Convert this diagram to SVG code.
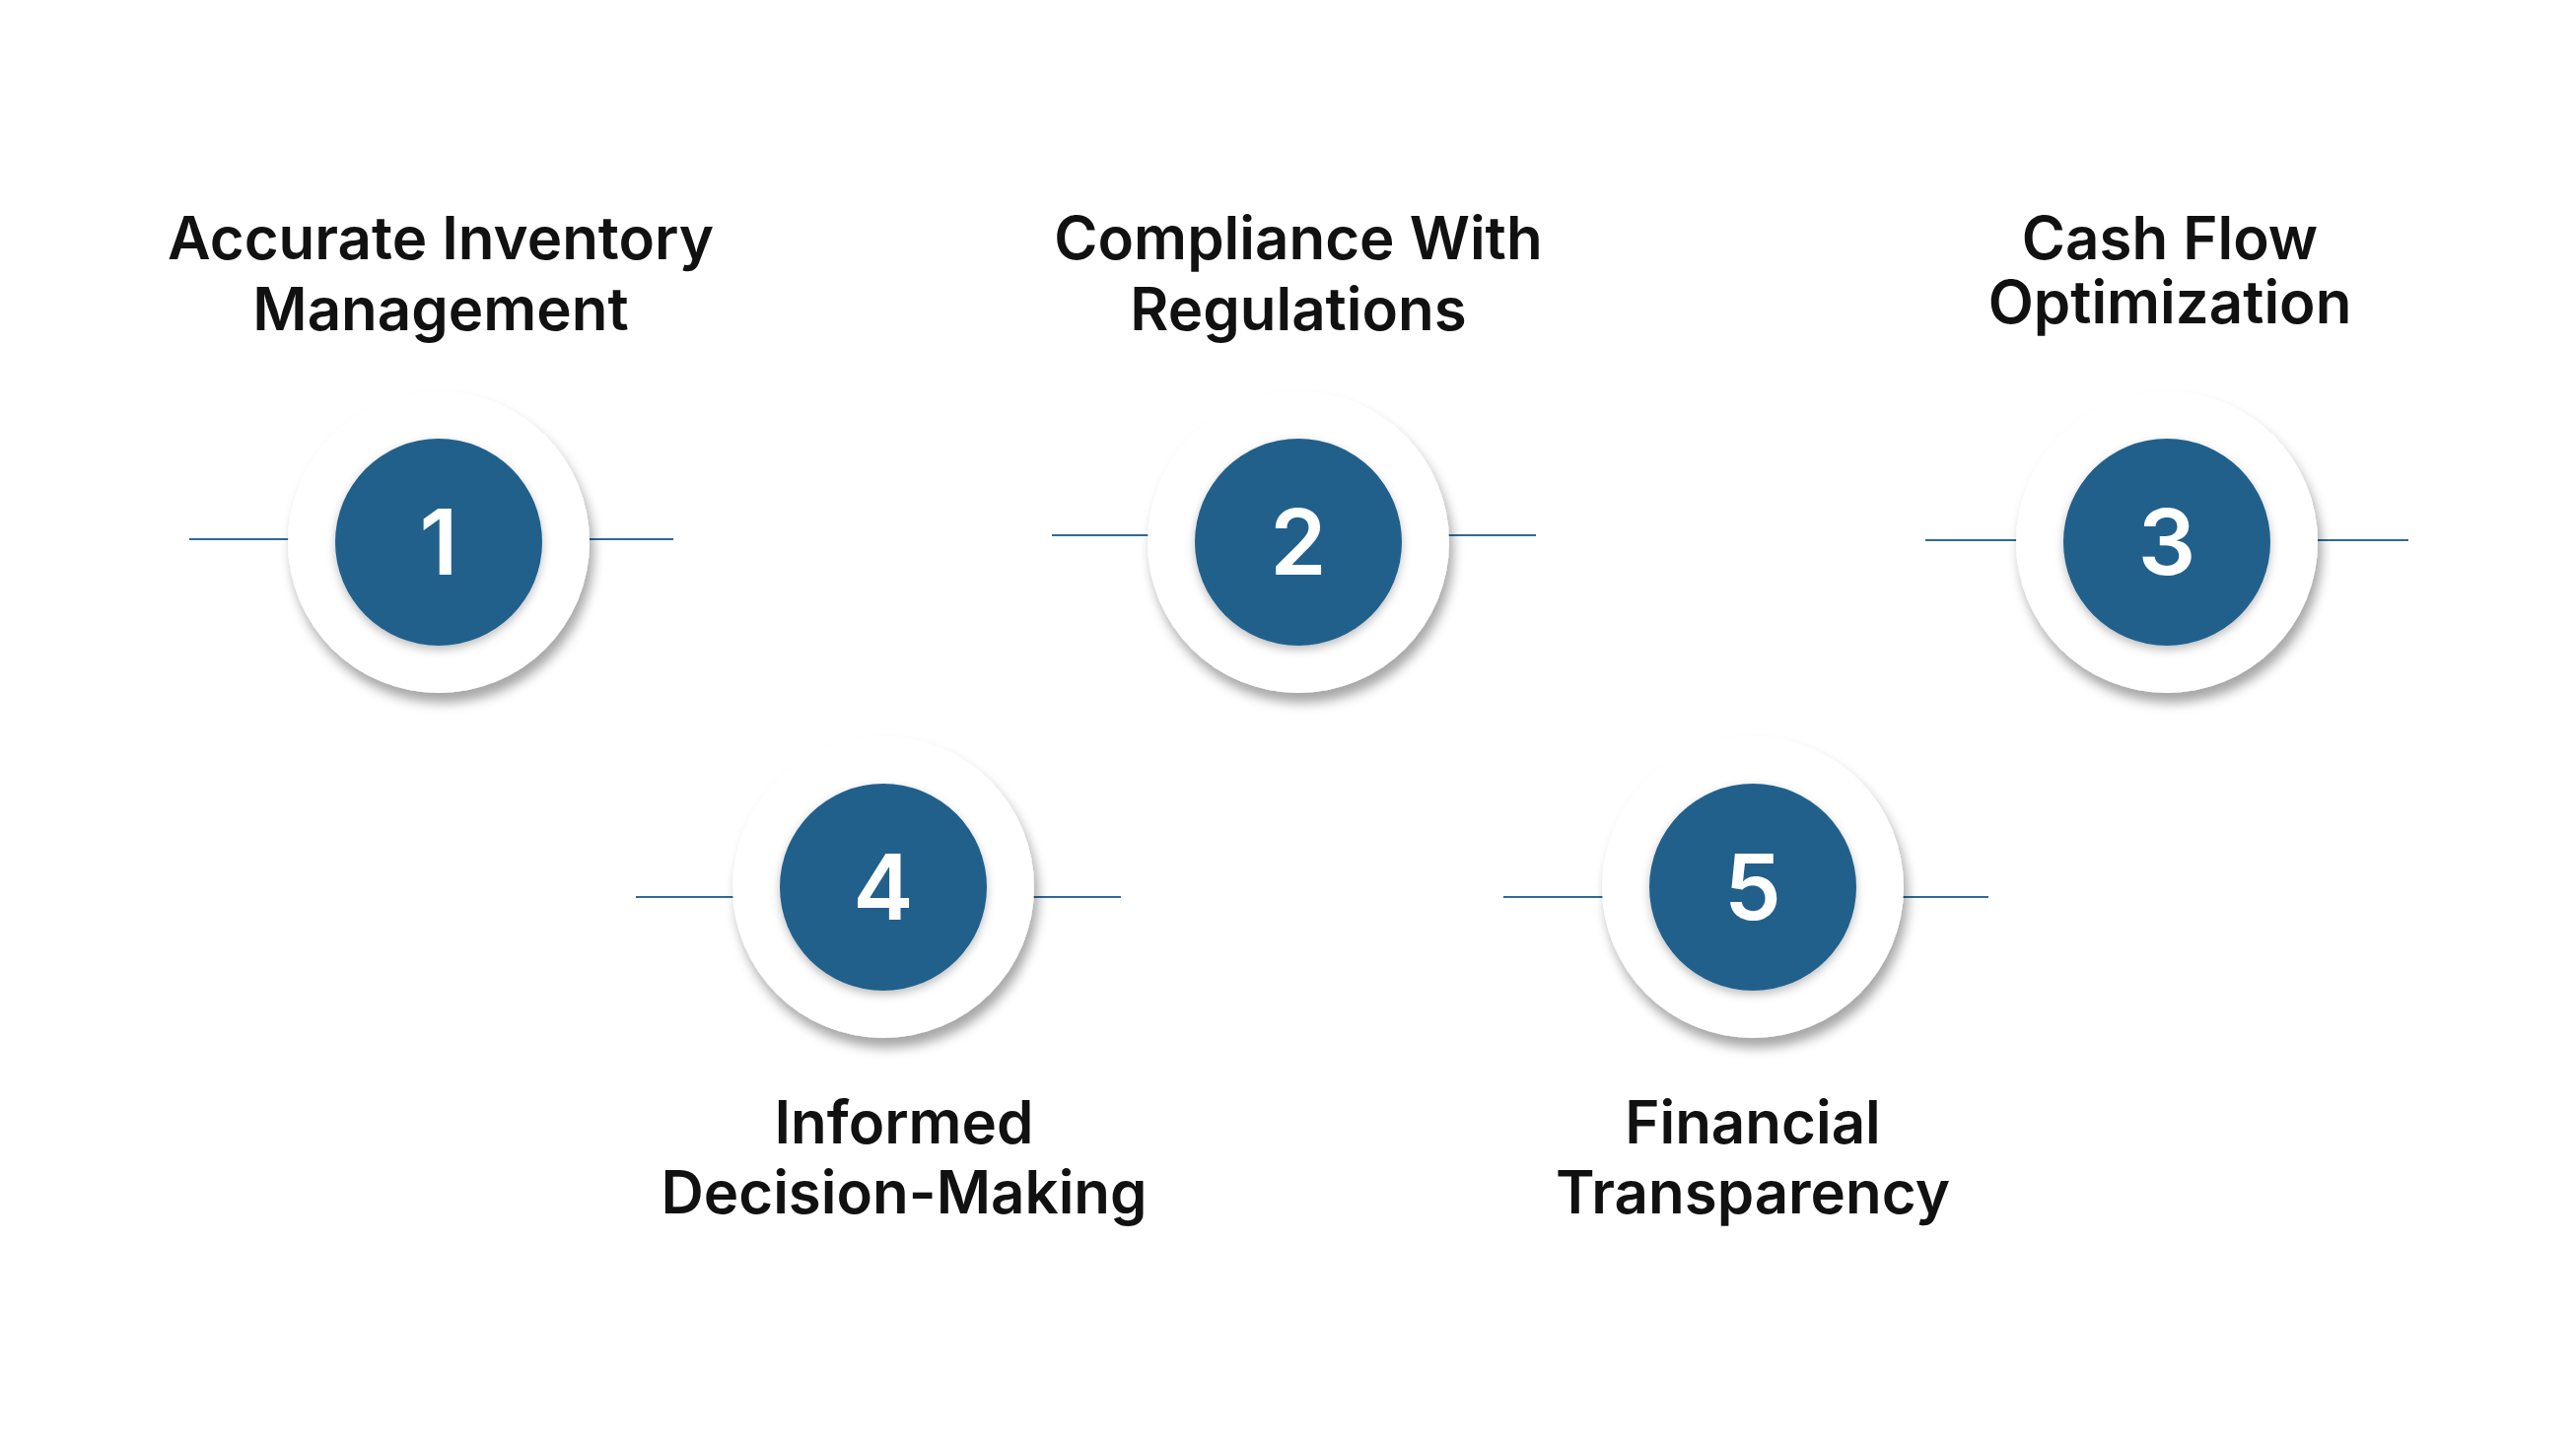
<svg xmlns="http://www.w3.org/2000/svg" width="2613" height="1470" viewBox="0 0 2613 1470">
<style>
.t{font-family:Inter,"Liberation Sans",sans-serif;font-weight:600;font-size:60px;fill:#111;text-anchor:middle}
.n{font-family:Inter,"Liberation Sans",sans-serif;font-weight:600;font-size:92px;fill:#fff;text-anchor:middle}
.o{fill:#fff;filter:url(#sh)}
.i{fill:#22618c;filter:url(#sh2)}
.l{stroke:#2f6a99;stroke-width:2}
</style>
<defs>
<filter id="sh" x="-30%" y="-30%" width="160%" height="170%"><feDropShadow dx="4" dy="10" stdDeviation="6" flood-color="#000" flood-opacity="0.35"/></filter>
<filter id="sh2" x="-30%" y="-30%" width="160%" height="170%"><feDropShadow dx="0" dy="4" stdDeviation="5" flood-color="#000" flood-opacity="0.25"/></filter>
</defs>
<rect width="2613" height="1470" fill="#fff"/>
<g id="connectors">
<line class="l" x1="192" y1="547" x2="683" y2="547"/>
<line class="l" x1="1067" y1="543" x2="1558" y2="543"/>
<line class="l" x1="1953" y1="548" x2="2443" y2="548"/>
<line class="l" x1="645" y1="910" x2="1137" y2="910"/>
<line class="l" x1="1525" y1="910" x2="2017" y2="910"/>
</g>
<g id="node1"><circle class="o" cx="445" cy="550" r="153"/><circle class="i" cx="445" cy="550" r="105"/><text class="n" x="445" y="583">1</text>
<text class="t" x="447" y="263">Accurate Inventory</text><text class="t" x="447" y="335">Management</text></g>
<g id="node2"><circle class="o" cx="1317" cy="550" r="153"/><circle class="i" cx="1317" cy="550" r="105"/><text class="n" x="1317" y="583">2</text>
<text class="t" x="1317" y="263">Compliance With</text><text class="t" x="1317" y="335">Regulations</text></g>
<g id="node3"><circle class="o" cx="2198" cy="550" r="153"/><circle class="i" cx="2198" cy="550" r="105"/><text class="n" x="2198" y="583">3</text>
<text class="t" x="2201" y="263">Cash Flow</text><text class="t" x="2201" y="328">Optimization</text></g>
<g id="node4"><circle class="o" cx="896" cy="900" r="153"/><circle class="i" cx="896" cy="900" r="105"/><text class="n" x="896" y="933">4</text>
<text class="t" x="917" y="1160">Informed</text><text class="t" x="917" y="1231">Decision-Making</text></g>
<g id="node5"><circle class="o" cx="1778" cy="900" r="153"/><circle class="i" cx="1778" cy="900" r="105"/><text class="n" x="1778" y="933">5</text>
<text class="t" x="1778" y="1160">Financial</text><text class="t" x="1778" y="1231">Transparency</text></g>
</svg>
